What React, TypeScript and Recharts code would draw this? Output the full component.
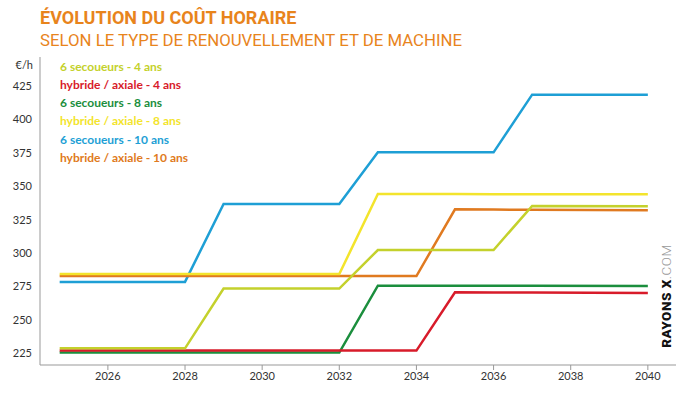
import { LineChart, Line, XAxis, YAxis, Legend } from 'recharts';

// x positions of the break points (lines start a bit before 2025 on the original)
const years = [2024.75, 2028, 2029, 2032, 2033, 2034, 2035, 2036, 2037, 2040];

const secoueurs4 = [228.7, 228.7, 273.4, 273.4, 302.3, 302.3, 302.3, 302.3, 335.3, 335.0];
const hybride4 = [227.0, 227.0, 227.0, 227.0, 227.0, 227.0, 270.7, 270.5, 270.4, 270.1];
const secoueurs8 = [225.5, 225.5, 225.5, 225.5, 275.6, 275.6, 275.5, 275.5, 275.5, 275.3];
const hybride8 = [284.3, 284.3, 284.3, 284.3, 344.2, 344.2, 344.2, 344.1, 344.1, 344.0];
const secoueurs10 = [278.4, 278.4, 336.8, 336.8, 375.4, 375.4, 375.4, 375.4, 418.6, 418.6];
const hybride10 = [282.8, 282.8, 282.8, 282.8, 282.8, 282.8, 332.8, 332.6, 332.4, 332.0];

const xTicks = [2026, 2028, 2030, 2032, 2034, 2036, 2038, 2040];
const yTicks = [225, 250, 275, 300, 325, 350, 375, 400, 425];

const series = [
  { key: 's4', name: '6 secoueurs - 4 ans', color: '#c4d12c', values: secoueurs4 },
  { key: 'h4', name: 'hybride / axiale - 4 ans', color: '#d81b2a', values: hybride4 },
  { key: 's8', name: '6 secoueurs - 8 ans', color: '#1b8e3d', values: secoueurs8 },
  { key: 'h8', name: 'hybride / axiale - 8 ans', color: '#f3e42c', values: hybride8 },
  { key: 's10', name: '6 secoueurs - 10 ans', color: '#1e9fd5', values: secoueurs10 },
  { key: 'h10', name: 'hybride / axiale - 10 ans', color: '#e07a20', values: hybride10 },
];

// draw order, last one on top
const drawOrder = ['s10', 'h10', 'h8', 's8', 'h4', 's4'];

const data = years.map((year, i) => {
  const row: Record<string, number> = { year };
  series.forEach((s) => {
    row[s.key] = s.values[i];
  });
  return row;
});

const orange = '#e8841c';
const tickFont = { fontFamily: 'Lato', fontSize: 11, fill: '#333' };

function LegendList() {
  return (
    <div style={{ fontFamily: 'Lato', fontWeight: 700, fontSize: 12, lineHeight: '18.3px' }}>
      {series.map((s) => (
        <div key={s.key} style={{ color: s.color, whiteSpace: 'nowrap' }}>
          {s.name}
        </div>
      ))}
    </div>
  );
}

export default function App() {
  return (
    <div
      style={{
        position: 'absolute',
        left: 0,
        top: 0,
        width: 700,
        height: 394,
        background: '#fff',
        overflow: 'hidden',
      }}
    >
      <div
        style={{
          position: 'absolute',
          left: 40,
          top: 9,
          fontFamily: 'Roboto',
          fontWeight: 700,
          fontSize: 18,
          lineHeight: '18px',
          color: orange,
          whiteSpace: 'nowrap',
        }}
      >
        ÉVOLUTION DU COÛT HORAIRE
      </div>
      <div
        style={{
          position: 'absolute',
          left: 40,
          top: 31.5,
          fontFamily: 'Roboto',
          fontSize: 16.8,
          lineHeight: '17px',
          color: orange,
          whiteSpace: 'nowrap',
        }}
      >
        SELON LE TYPE DE RENOUVELLEMENT ET DE MACHINE
      </div>
      <div
        style={{
          position: 'absolute',
          right: 700 - 33,
          top: 58,
          fontFamily: 'Lato',
          fontSize: 11,
          lineHeight: '14px',
          color: '#333',
        }}
      >
        €/h
      </div>

      <LineChart width={700} height={394} data={data} margin={{ top: 57, right: 24, bottom: 0, left: 0 }}>
        <XAxis
          dataKey="year"
          type="number"
          domain={[2024.24, 2040.73]}
          ticks={xTicks}
          allowDataOverflow
          height={29}
          tickSize={5}
          tick={tickFont}
          stroke="#999"
          tickLine={{ stroke: '#999' }}
        />
        <YAxis
          type="number"
          domain={[216.2, 446.8]}
          ticks={yTicks}
          allowDataOverflow
          width={40}
          tickLine={false}
          tick={tickFont}
          stroke="#999"
        />
        <Legend
          layout="vertical"
          align="center"
          verticalAlign="middle"
          wrapperStyle={{ left: 60, top: 57.5, width: 200 }}
          content={() => <LegendList />}
        />
        {drawOrder.map((k) => {
          const s = series.find((x) => x.key === k)!;
          return (
            <Line
              key={s.key}
              dataKey={s.key}
              name={s.name}
              type="linear"
              stroke={s.color}
              strokeWidth={2.5}
              dot={false}
              activeDot={false}
              isAnimationActive={false}
            />
          );
        })}
      </LineChart>

      <div
        style={{
          position: 'absolute',
          left: 666,
          top: 296,
          transform: 'translate(-50%, -50%) rotate(-90deg)',
          fontFamily: 'Roboto',
          fontSize: 13.5,
          whiteSpace: 'nowrap',
          letterSpacing: 0.5,
        }}
      >
        <span style={{ fontWeight: 900, color: '#111' }}>RAYONS X</span>
        <span style={{ fontWeight: 300, color: '#9a9a9a' }}>.COM</span>
      </div>
    </div>
  );
}
